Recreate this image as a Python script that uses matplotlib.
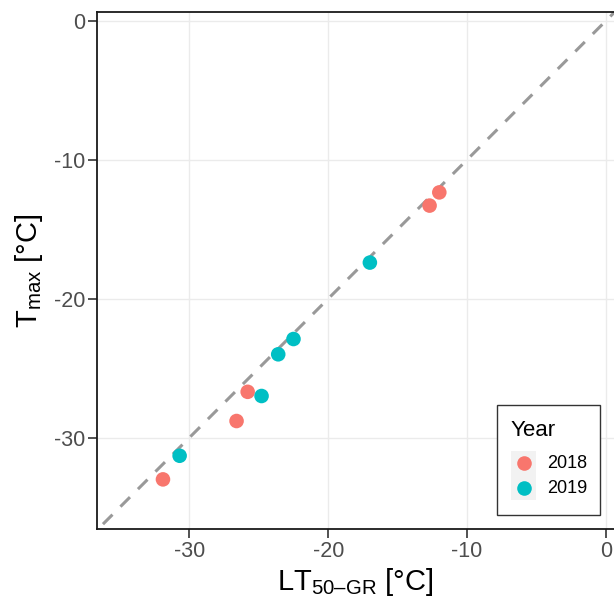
import matplotlib
matplotlib.use("Agg")
import matplotlib.pyplot as plt
from matplotlib.lines import Line2D
from matplotlib.patches import Rectangle

plt.rcParams['font.family'] = ['Liberation Sans', 'DejaVu Sans']
plt.rcParams['mathtext.fontset'] = 'custom'
plt.rcParams['mathtext.rm'] = 'Liberation Sans'
plt.rcParams['mathtext.it'] = 'Liberation Sans'

years = ["2018", "2019"]
colors = {"2018": "#F8766D", "2019": "#00BFC4"}
lt50_2018 = [-31.9, -26.6, -25.8, -12.7, -12.0]
tmax_2018 = [-33.0, -28.8, -26.7, -13.3, -12.35]
lt50_2019 = [-30.7, -24.8, -23.6, -22.5, -17.0]
tmax_2019 = [-31.3, -27.0, -24.0, -22.9, -17.4]
xticks = [-30, -20, -10, 0]
yticks = [-30, -20, -10, 0]

W, H = 614, 601
fig = plt.figure(figsize=(W / 100, H / 100), dpi=100)


def fx(px):
    return px / W


def fy(py):
    return 1 - py / H


ax = fig.add_axes([fx(97), fy(529), (614 - 97) / W, (529 - 12) / H])
ax.set_xlim(-36.65, 0.58)
ax.set_ylim(-36.57, 0.63)

for v in xticks:
    ax.axvline(v, color="#EBEBEB", lw=1.0, zorder=0)
for v in yticks:
    ax.axhline(v, color="#EBEBEB", lw=1.0, zorder=0)

ax.plot([-40, 2], [-40, 2], color="#999999", lw=2.2, dashes=(4.4, 3.7), zorder=1)

data = {"2018": (lt50_2018, tmax_2018), "2019": (lt50_2019, tmax_2019)}
for y in years:
    xs, ys = data[y]
    ax.scatter(xs, ys, s=110, color=colors[y], edgecolors='none', zorder=3)

ax.set_xticks(xticks)
ax.set_yticks(yticks)
ax.set_xticklabels([str(v) for v in xticks])
ax.set_yticklabels([str(v) for v in yticks])
ax.tick_params(axis='both', length=6.5, width=1.2, color="#333333", labelcolor="#4D4D4D",
               labelsize=15.5, pad=2)
for s in ['left', 'bottom', 'top']:
    ax.spines[s].set_linewidth(1.3)
    ax.spines[s].set_color("#1A1A1A")
ax.spines['right'].set_visible(False)

ax.set_xlabel('LT$_{\\mathrm{50\u2013GR}}$ [$\\degree$C]', fontsize=21, labelpad=3)
ax.set_ylabel('T$_{\\mathrm{max}}$ [$\\degree$C]', fontsize=21, labelpad=6)

# legend drawn manually in figure pixel positions
fig.patches.append(Rectangle((fx(497), fy(515)), (600 - 497) / W, (515 - 405) / H,
                             transform=fig.transFigure, facecolor='white',
                             edgecolor='#333333', lw=1.0, zorder=5))
fig.patches.append(Rectangle((fx(511), fy(500)), (536 - 511) / W, (500 - 451) / H,
                             transform=fig.transFigure, facecolor='#F2F2F2',
                             edgecolor='none', zorder=6))
fig.text(fx(511), fy(431), "Year", fontsize=16, va='center', ha='left', zorder=7)
key_y = [463, 488]
for y, ky in zip(years, key_y):
    fig.lines.append(Line2D([fx(523.5)], [fy(ky)], transform=fig.transFigure, marker='o',
                            ls='', markersize=10.5, markerfacecolor=colors[y],
                            markeredgecolor='none', zorder=7))
    fig.text(fx(547), fy(ky + 0.5), y, fontsize=13, va='center', ha='left', zorder=7)

fig.savefig("out.png", dpi=100)
